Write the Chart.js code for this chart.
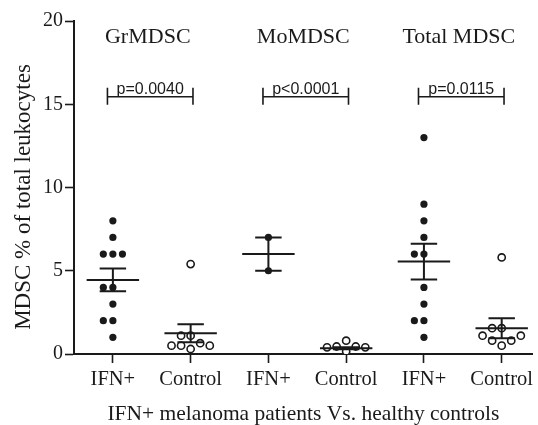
<!DOCTYPE html>
<html>
<head>
<meta charset="utf-8">
<script src="https://cdn.jsdelivr.net/npm/chart.js@4.4.1/dist/chart.umd.min.js"></script>
<style>
  body { margin: 0; background: #fff; }
</style>
</head>
<body>
<canvas id="mdscChart" width="538" height="425"></canvas>
<script>
const xLabels = ["IFN+", "Control", "IFN+", "Control", "IFN+", "Control"];
const groupNames = ["GrMDSC", "MoMDSC", "Total MDSC"];
const pLabels = ["p=0.0040", "p<0.0001", "p=0.0115"];
const yTicks = [0, 5, 10, 15, 20];
const yTitle = "MDSC % of total leukocytes";

// individual values, in the order they get swarmed
const grIfn = [8, 7, 6, 6, 6, 4, 4, 3, 2, 2, 1];
const grCtrl = [5.4, 1.1, 1.1, 0.3, 0.65, 0.5, 0.5, 0.5];
const moIfn = [7, 5];
const moCtrl = [0.8, 0.45, 0.45, 0.4, 0.4, 0.15];
const totIfn = [13, 9, 8, 7, 6, 6, 4, 3, 2, 2, 1];
const totCtrl = [5.8, 1.55, 1.55, 0.5, 0.8, 0.8, 1.1, 1.1];

// mean and SEM
const means = [4.45, 1.25, 6.0, 0.35, 5.55, 1.55];
const sems = [0.68, 0.54, 1.0, 0.06, 1.07, 0.6];

const INK = "#1a1a1a";
const SERIF = "'Liberation Serif', 'Times New Roman', serif";

// simple beeswarm so equal values sit side by side
const SLOT = 0.123;       // x units between neighbouring dots
const PX_X = 78.6;        // px per x unit
const PX_Y = 16.65;       // px per y unit
const MIN_PX = 8;
function swarm(values, center) {
    const placed = [];
    values.forEach(v => {
        for (let k = 0; k < 30; k++) {
            const slot = k === 0 ? 0 : (k % 2 ? -Math.ceil(k / 2) : Math.ceil(k / 2));
            const ok = placed.every(p =>
                Math.hypot((p.s - slot) * SLOT * PX_X, (p.y - v) * PX_Y) >= MIN_PX);
            if (ok) { placed.push({ s: slot, y: v }); break; }
        }
    });
    return placed.map(p => ({ x: center + p.s * SLOT, y: p.y }));
}

const groups = [grIfn, grCtrl, moIfn, moCtrl, totIfn, totCtrl];

const datasets = groups.map((vals, i) => {
    const filled = i % 2 === 0;
    return {
        label: xLabels[i],
        data: swarm(vals, i + 1),
        pointRadius: 3.6,
        pointHoverRadius: 3.6,
        pointBackgroundColor: filled ? INK : "#fff",
        pointBorderColor: INK,
        pointBorderWidth: filled ? 0 : 1.6
    };
});

const overlay = {
    id: "overlay",
    afterDatasetsDraw(chart) {
        const { ctx, scales: { x, y } } = chart;
        ctx.save();
        ctx.strokeStyle = INK;
        ctx.fillStyle = INK;

        // mean line + SEM bars
        ctx.lineWidth = 2;
        means.forEach((m, i) => {
            const c = i + 1;
            const yl = y.getPixelForValue(m - sems[i]);
            const yh = y.getPixelForValue(m + sems[i]);
            const ym = y.getPixelForValue(m);
            ctx.beginPath();
            ctx.moveTo(x.getPixelForValue(c - 0.337), ym);
            ctx.lineTo(x.getPixelForValue(c + 0.337), ym);
            ctx.moveTo(x.getPixelForValue(c), yl);
            ctx.lineTo(x.getPixelForValue(c), yh);
            ctx.moveTo(x.getPixelForValue(c - 0.17), yh);
            ctx.lineTo(x.getPixelForValue(c + 0.17), yh);
            ctx.moveTo(x.getPixelForValue(c - 0.17), yl);
            ctx.lineTo(x.getPixelForValue(c + 0.17), yl);
            ctx.stroke();
        });

        // group titles and p value brackets
        groupNames.forEach((name, g) => {
            const c1 = g * 2 + 1, c2 = g * 2 + 2;
            const mid = x.getPixelForValue((c1 + c2) / 2) - 4;
            ctx.font = "22px " + SERIF;
            ctx.textAlign = "center";
            ctx.textBaseline = "alphabetic";
            ctx.fillText(name, mid, y.getPixelForValue(18.7));

            const by = y.getPixelForValue(15.45);
            const xa = x.getPixelForValue(c1 - 0.07);
            const xb = x.getPixelForValue(c2 + 0.03);
            ctx.lineWidth = 1.6;
            ctx.beginPath();
            ctx.moveTo(xa, by); ctx.lineTo(xb, by);
            ctx.moveTo(xa, by - 9); ctx.lineTo(xa, by + 8);
            ctx.moveTo(xb, by - 9); ctx.lineTo(xb, by + 8);
            ctx.stroke();
            ctx.font = "16px 'Liberation Sans', Arial, sans-serif";
            ctx.fillText(pLabels[g], (xa + xb) / 2, by - 3);
        });

        // y axis title, sits a little below the axis middle in the original
        ctx.translate(24, 197);
        ctx.rotate(-Math.PI / 2);
        ctx.font = "23px " + SERIF;
        ctx.textBaseline = "middle";
        ctx.textAlign = "center";
        ctx.fillText(yTitle, 0, 0);
        ctx.restore();
    }
};

new Chart(document.getElementById("mdscChart").getContext("2d"), {
    type: "scatter",
    data: { datasets: datasets },
    options: {
        responsive: false,
        animation: false,
        layout: { padding: { top: 21, right: 0, left: 0, bottom: 0 } },
        plugins: {
            legend: { display: false },
            tooltip: { enabled: false }
        },
        scales: {
            x: {
                type: "linear",
                min: 0.5,
                max: 6.4,
                afterBuildTicks: s => { s.ticks = xLabels.map((_, i) => ({ value: i + 1 })); },
                afterFit: s => { s.height = 71; s.paddingLeft = 0; s.paddingRight = 0; },
                ticks: {
                    callback: v => xLabels[v - 1],
                    color: INK,
                    font: { family: SERIF, size: 20.5 },
                    padding: 4,
                    maxRotation: 0,
                    autoSkip: false
                },
                grid: { drawOnChartArea: false, tickLength: 9, tickColor: INK, tickWidth: 1.6 },
                border: { color: INK, width: 2 },
                title: {
                    display: true,
                    text: "IFN+ melanoma patients Vs. healthy controls",
                    color: INK,
                    font: { family: SERIF, size: 21.5 },
                    padding: { top: 0, bottom: -2 }
                }
            },
            y: {
                min: 0,
                max: 20,
                afterBuildTicks: s => { s.ticks = yTicks.map(v => ({ value: v })); },
                afterFit: s => { s.width = 74; },
                ticks: {
                    color: INK,
                    font: { family: SERIF, size: 20 },
                    padding: 2
                },
                grid: { drawOnChartArea: false, tickLength: 9, tickColor: INK, tickWidth: 1.6 },
                border: { color: INK, width: 2 },
                title: { display: false }
            }
        }
    },
    plugins: [overlay]
});
</script>
</body>
</html>
